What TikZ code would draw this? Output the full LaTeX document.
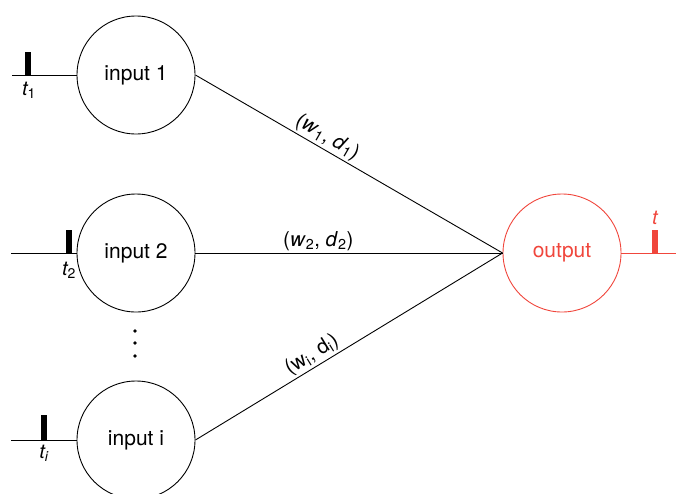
\documentclass[tikz,border=0pt]{standalone}
\usepackage{fontspec}
\setmainfont{TeX Gyre Heros}
\definecolor{outred}{RGB}{240,70,60}
\tikzset{
  neuron/.style={draw, circle, line width=0.9pt, minimum size=118pt, inner sep=0pt,
    font=\fontsize{21}{24}\selectfont},
  wlabel/.style={font=\fontsize{20.5}{24}\selectfont, inner sep=2pt},
  tlabel/.style={font=\fontsize{20}{23}\selectfont, inner sep=0pt}
}
\begin{document}
\begin{tikzpicture}[x=1pt, y=-1pt, line width=0.9pt]
      \useasboundingbox (0,0) rectangle (676,493);

      % The three input neurons.
      \node[neuron] (in1) at (136,75) {input 1};
      \node[neuron] (in2) at (136,253) {input 2};
      \node[neuron] (ini) at (136,440) {input i};

      % The output neuron.
      \node[neuron, draw=outred, text=outred] (out) at (562,253) {output};

      % The vertical dots between input 2 and input i.
      \fill (135,331) circle (1.8);
      \fill (135,343) circle (1.8);
      \fill (135,356) circle (1.8);

      % Spike trains going into the inputs.
      \coordinate (s1) at (12,75);
      \coordinate (s2) at (11,253);
      \coordinate (si) at (11,440);
      \draw (s1) -- (in1.west);
      \draw (s2) -- (in2.west);
      \draw (si) -- (ini.west);
      \fill (25,52) rectangle (31,75);
      \fill (66,230) rectangle (72,253);
      \fill (41,415) rectangle (47,440);
      \node[tlabel] (t1) at (29,90) {\itshape t\textsubscript{\upshape 1}};
      \node[tlabel] (t2) at (69,270) {\itshape t\textsubscript{\upshape 2}};
      \node[tlabel] (ti) at (44,453) {\itshape t\textsubscript{i}};

      % Weighted, delayed connections to the output.
      \draw (in1.east) -- (out.west)
      node [wlabel, pos=0.41, sloped, above] {(\textit{w}\textsubscript{1}, \textit{d}\textsubscript{1})};
      \draw (in2.east) -- (out.west)
      node [wlabel, pos=0.4, above] {(\textit{w}\textsubscript{2}, \textit{d}\textsubscript{2})};
      \draw (ini.east) -- (out.west)
      node [wlabel, pos=0.4, sloped, above] {(w\textsubscript{i}, d\textsubscript{i})};

      % Output spike.
      \coordinate (so) at (676,253);
      \draw[outred] (out.east) -- (so);
      \fill[outred] (652,230) rectangle (658,253);
      \node[tlabel, text=outred] (t) at (655,218) {\itshape t};
\end{tikzpicture}
\end{document}
